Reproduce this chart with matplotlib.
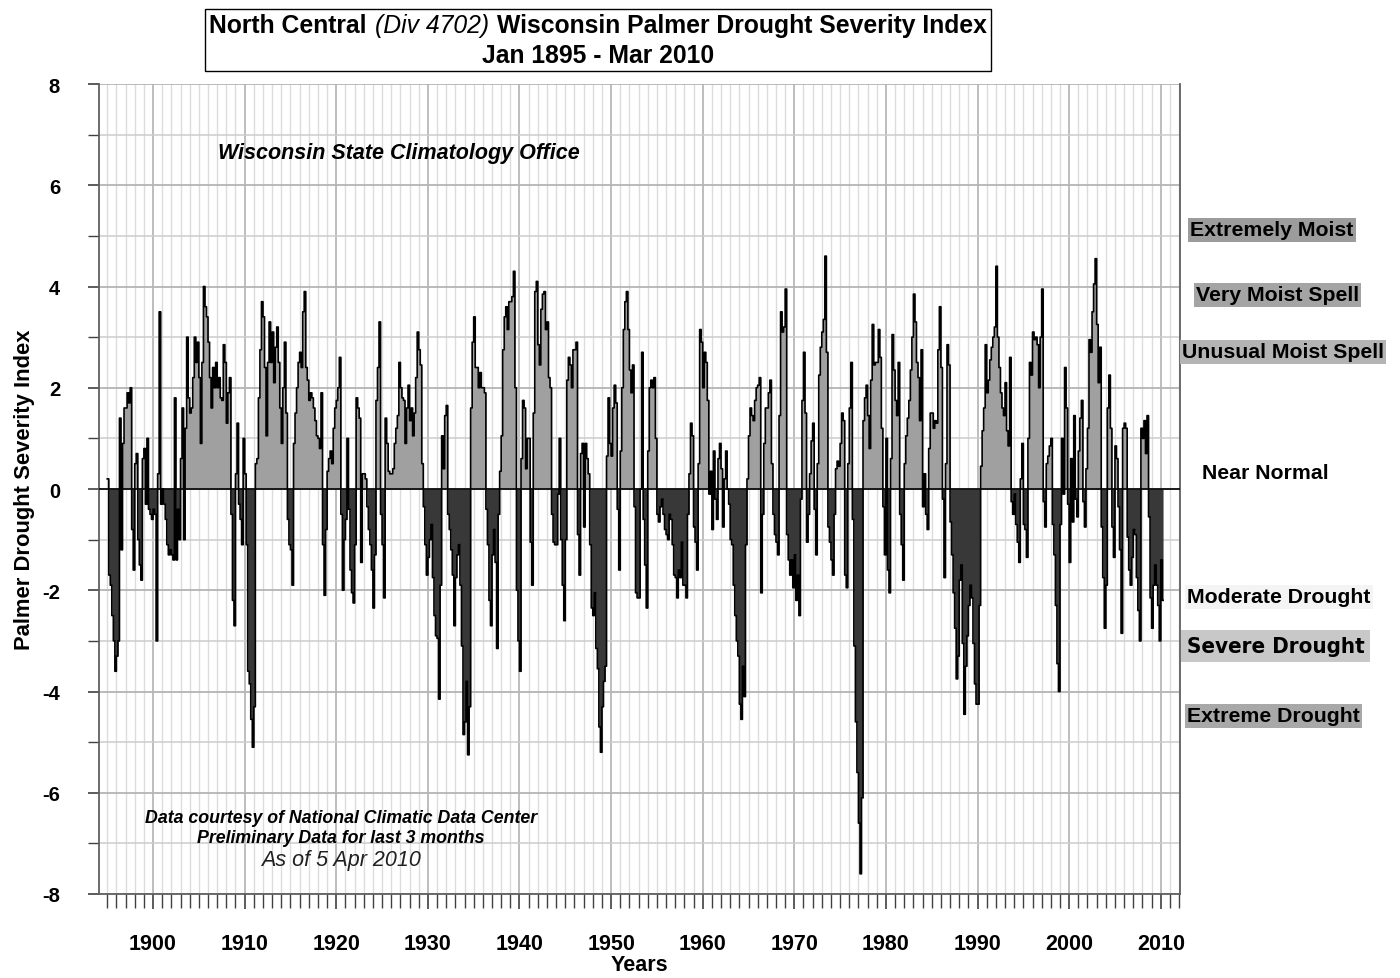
import numpy as np
import matplotlib.pyplot as plt
from matplotlib.ticker import MultipleLocator
from matplotlib.offsetbox import TextArea, HPacker, VPacker, AnnotationBbox

# Indice de Palmer, valores bimensuales (6 por año)
pdsi_1890s = [0.2, -1.7, -1.9, -2.5, -3.0, -3.6,
              -3.3, -3.0, 1.4, -1.2, 0.9, 1.6,
              1.6, 1.9, 1.7, 2.0, -0.8, -1.6,
              0.5, 0.7, -1.0, -1.5, -1.8, 0.6,
              0.8, -0.3, 1.0, -0.4, -0.5, -0.6]
pdsi_1900s = [-0.4, -0.5, -3.0, 0.3, 3.5, -0.3,
              0.0, -0.3, -0.6, -1.1, -1.3, -1.2,
              -1.3, -1.4, 1.8, -1.4, -0.4, -1.0,
              0.6, 1.6, -1.0, 1.2, 3.0, 1.8,
              1.5, 1.6, 2.2, 3.0, 2.5, 2.9,
              2.2, 0.9, 2.5, 4.0, 3.6, 3.4,
              2.9, 2.2, 1.6, 2.4, 2.0, 2.5,
              2.0, 2.2, 1.8, 1.75, 2.85, 2.5,
              1.3, 1.9, 2.2, -0.5, -2.2, -2.7,
              0.3, 1.3, -0.3, -0.6, -1.1, 1.0]
pdsi_1910s = [0.3, -1.1, -3.6, -3.85, -4.55, -5.1,
              -4.3, 0.5, 0.6, 1.8, 2.75, 3.7,
              3.4, 2.4, 1.05, 2.5, 3.3, 2.5,
              3.1, 2.1, 2.8, 3.2, 2.5, 1.6,
              0.9, 2.0, 2.9, 1.5, -0.6, -1.1,
              -1.2, -1.9, 0.9, 1.5, 2.0, 2.5,
              2.7, 2.4, 3.5, 3.9, 2.4, 2.15,
              1.75, 1.9, 1.8, 1.6, 1.35, 1.05,
              1.0, 0.8, 1.9, -1.1, -2.1, -0.8,
              0.35, 0.6, 0.75, 0.5, 1.2, 1.6]
pdsi_1920s = [1.75, 2.0, 2.6, -0.5, -2.0, -1.0,
              -0.6, 1.0, -0.4, -1.6, -2.05, -2.25,
              -1.1, 1.8, 1.6, 1.4, -1.45, 0.3,
              0.3, 0.2, -0.35, -0.8, -1.1, -1.6,
              -2.35, -1.3, 1.75, 2.4, 3.3, -0.5,
              -1.1, -2.15, 1.4, 0.9, 0.35, 0.3,
              0.3, 0.4, 0.9, 1.2, 1.45, 2.5,
              2.0, 1.8, 1.75, 0.9, 1.6, 2.05,
              1.35, 1.6, 1.05, 1.5, 2.2, 3.1,
              2.75, 2.45, 0.5, -0.35, -1.1, -1.7]
pdsi_1930s = [-1.35, -1.0, -0.7, -1.75, -2.5, -2.9,
              -2.95, -4.15, -1.9, 1.05, 0.4, 1.45,
              1.65, -0.5, -0.8, -1.2, -1.7, -2.7,
              -1.75, -1.3, -1.1, -1.9, -3.1, -4.85,
              -4.6, -3.8, -5.25, -4.3, 1.6, 2.9,
              3.4, 2.4, 2.4, 2.0, 2.3, 2.0,
              2.0, 1.9, -0.4, -1.1, -2.2, -2.7,
              -1.3, -0.8, -1.45, -3.15, -0.5, 0.35,
              1.05, 2.75, 3.4, 3.6, 3.15, 3.7,
              3.7, 3.8, 4.3, 2.0, -2.0, -3.0]
pdsi_1940s = [-3.6, 0.6, 1.75, 1.6, 0.4, 1.0,
              1.0, -1.05, -1.9, 1.5, 3.9, 4.1,
              2.85, 2.45, 3.55, 3.85, 3.9, 3.15,
              3.3, 2.2, 2.0, -0.5, -1.05, -1.1,
              -1.1, -0.1, 1.0, -1.0, -1.9, -2.6,
              -1.0, 2.15, 2.6, 2.45, 2.0, 2.75,
              2.75, 2.9, -0.9, -1.7, 0.7, 0.9,
              -0.75, 0.9, 0.6, 0.3, -1.1, -2.35,
              -2.5, -2.05, -3.15, -3.55, -4.7, -5.2,
              -4.3, -3.8, -3.5, 0.65, 1.8, 0.9]
pdsi_1950s = [0.65, 1.6, 2.05, 1.7, -0.4, -1.6,
              0.75, 2.0, 3.15, 3.7, 3.9, 3.15,
              2.35, 1.9, 2.45, -0.35, -2.05, -2.15,
              -2.15, 0.0, 2.7, -0.6, -1.5, -2.35,
              0.75, 2.0, 2.15, 2.0, 2.2, 1.0,
              -0.5, -0.65, -0.35, -0.2, -0.5, -0.8,
              -0.9, -1.0, -0.5, -0.6, -1.1, -1.7,
              -1.75, -2.15, -1.6, -1.75, -1.05, -1.9,
              -1.9, -2.15, -0.5, 0.3, 1.3, 1.05,
              -0.75, -1.05, -1.6, 0.5, 3.15, 2.9]
pdsi_1960s = [2.0, 2.7, 2.5, 1.75, -0.1, 0.35,
              -0.8, 0.75, -0.2, -0.6, 0.6, 0.9,
              0.4, -0.75, 0.2, 0.75, 0.0, -0.3,
              -1.0, -1.1, -1.9, -2.5, -3.0, -3.3,
              -4.25, -4.55, -3.5, -4.1, -1.1, 0.2,
              1.05, 1.6, 1.45, 1.35, 1.75, 2.0,
              2.05, 2.2, -2.05, -0.5, 0.9, 1.6,
              1.6, 1.9, 2.15, 0.5, -0.5, -0.9,
              -1.05, -1.3, 1.45, 3.5, 3.1, 3.2,
              3.95, -0.9, -1.4, -1.7, -1.4, -1.95]
pdsi_1970s = [-1.3, -2.2, -1.7, -2.5, -0.2, 1.75,
              2.7, 1.5, -1.05, -0.5, 0.3, 0.95,
              1.3, -0.4, -1.3, 0.5, 2.25, 2.8,
              3.1, 3.35, 4.6, 2.7, -0.75, -1.05,
              -1.4, -1.7, -0.5, 0.4, 0.55, 0.45,
              0.9, 1.5, 1.35, -1.7, -1.95, 0.5,
              1.6, 2.5, -0.6, -3.1, -4.6, -5.6,
              -6.6, -7.6, -6.1, 1.35, 1.8, 2.05,
              1.45, 0.8, 2.15, 3.25, 2.45, 2.5,
              2.5, 3.15, 2.6, 1.2, -0.35, -1.3]
pdsi_1980s = [1.0, -1.6, -2.05, 0.6, 3.05, 2.35,
              1.75, 1.45, 2.5, -0.5, -1.1, -1.8,
              0.5, 1.05, 1.4, 1.75, 2.35, 3.0,
              3.85, 3.3, 2.5, 2.2, 1.35, 2.75,
              -0.35, 0.3, -0.5, -0.8, 0.8, 1.5,
              1.5, 1.2, 1.35, 1.3, 2.75, 3.6,
              2.4, -0.2, -1.75, 0.5, 2.85, 2.45,
              -0.65, -1.3, -2.05, -2.75, -3.75, -3.3,
              -1.8, -1.5, -3.05, -4.45, -3.5, -2.9,
              -2.3, -1.9, -2.15, -3.05, -3.85, -4.25]
pdsi_1990s = [-4.25, -2.3, 0.45, 1.15, 1.6, 2.85,
              1.9, 2.15, 2.55, 2.8, 3.0, 3.2,
              4.4, 3.0, 2.4, 1.9, 1.6, 1.45,
              2.1, 1.15, 0.85, 2.6, -0.25, -0.5,
              -0.1, -0.7, -1.05, -1.45, 0.2, 0.9,
              -0.7, -0.8, -1.35, 1.0, 2.5, 2.25,
              3.1, 2.95, 3.0, 2.85, 2.0, 3.0,
              3.95, -0.25, -0.75, 0.5, 0.65, 0.85,
              1.0, -0.7, -1.3, -2.3, -3.45, -4.0,
              -0.7, 1.0, -0.1, 2.4, 1.6, -0.3]
pdsi_2000s = [-1.45, 0.6, -0.65, 1.45, -0.2, -0.55,
              0.75, 1.4, 1.75, -0.25, -0.75, 0.4,
              1.2, 2.95, 2.7, 3.5, 4.05, 4.55,
              3.25, 2.1, 2.8, -0.75, -1.75, -2.75,
              -1.9, 1.6, 2.25, 1.2, -0.75, -1.35,
              0.85, 0.6, -0.35, -1.2, -2.85, 1.2,
              1.3, 1.2, -0.95, -1.6, -1.9, -1.35,
              -0.8, -0.9, -1.75, -2.4, -3.0, 1.2,
              1.0, 1.35, 0.7, 1.45, -0.55, -2.15,
              -2.75, -1.9, -1.5, -1.9, -2.3, -3.0]
pdsi_2010 = [-1.4, -2.2]

categorias = [("Extremely Moist", 231, 1190, '#9c9c9c'),
              ("Very Moist Spell", 296, 1196, '#a4a4a4'),
              ("Unusual Moist Spell", 353, 1182, '#b4b4b4'),
              ("Near Normal", 474, 1202, None),
              ("Moderate Drought", 598, 1187, '#f4f4f4'),
              ("Severe Drought", 647, 1187, '#c8c8c8'),
              ("Extreme Drought", 717, 1187, '#a8a8a8')]

pdsi = np.array(pdsi_1890s + pdsi_1900s + pdsi_1910s + pdsi_1920s + pdsi_1930s +
                pdsi_1940s + pdsi_1950s + pdsi_1960s + pdsi_1970s + pdsi_1980s +
                pdsi_1990s + pdsi_2000s + pdsi_2010)
t = 1895 + np.arange(len(pdsi)) / 6.0
t_s = np.append(t, 2010.25)
v_s = np.append(pdsi, pdsi[-1])

plt.rcParams['font.family'] = ['Liberation Sans', 'DejaVu Sans']
plt.rcParams['axes.unicode_minus'] = False

W, H = 1400, 979
fig = plt.figure(figsize=(W / 100, H / 100), dpi=100)
ax = fig.add_axes([99 / W, 1 - 895 / H, (1180 - 99) / W, (895 - 85) / H])

# Relleno positivo / negativo
ax.fill_between(t_s, np.maximum(v_s, 0), 0, step='post', color='#a0a0a0', lw=0, zorder=2)
ax.fill_between(t_s, np.minimum(v_s, 0), 0, step='post', color='#383838', lw=0, zorder=2)
ax.plot(t_s, v_s, drawstyle='steps-post', color='black', lw=1.2, zorder=3)
ax.axhline(0, color='black', lw=1.2, zorder=4)

ax.set_xlim(1894.1, 2012.1)
ax.set_ylim(-8, 8)
ax.xaxis.set_major_locator(MultipleLocator(10))
ax.xaxis.set_minor_locator(MultipleLocator(1))
ax.yaxis.set_major_locator(MultipleLocator(2))
ax.yaxis.set_minor_locator(MultipleLocator(1))
ax.grid(which='major', axis='x', color='#bdbdbd', lw=1.4, zorder=0)
ax.grid(which='minor', axis='x', color='#dcdcdc', lw=1.0, zorder=0)
ax.grid(which='major', axis='y', color='#b4b4b4', lw=1.3, zorder=0)
ax.grid(which='minor', axis='y', color='#cccccc', lw=1.1, zorder=0)
ax.set_axisbelow(True)

ax.tick_params(which='both', direction='out', color='#404040')
ax.tick_params(axis='x', which='major', length=11, width=1.2, labelsize=15.5, pad=17)
ax.tick_params(axis='x', which='minor', length=10, width=1.0)
ax.tick_params(axis='y', which='major', length=8, width=1.2, labelsize=14.5, pad=20)
ax.tick_params(axis='y', which='minor', length=8, width=1.0)
for lab in ax.get_xticklabels() + ax.get_yticklabels():
    lab.set_fontweight('bold')

for s in ['left', 'bottom', 'right']:
    ax.spines[s].set_color('#606060')
    ax.spines[s].set_linewidth(1.3)
ax.spines['top'].set_visible(False)

ax.set_xlabel("Years", fontsize=15.5, fontweight='bold', labelpad=0)
ax.set_ylabel("Palmer Drought Severity Index", fontsize=15.8, fontweight='bold', labelpad=5)

# Titulo en caja
tp = dict(fontsize=17.8, fontweight='bold')
l1 = HPacker(children=[TextArea("North Central", textprops=tp),
                       TextArea("(Div 4702)", textprops=dict(fontsize=17.8, fontstyle='italic')),
                       TextArea("Wisconsin Palmer Drought Severity Index", textprops=tp)],
             align='baseline', pad=0, sep=6)
l2 = TextArea("Jan 1895 - Mar 2010", textprops=tp)
caja = VPacker(children=[l1, l2], align='center', pad=0, sep=5)
ab = AnnotationBbox(caja, (598 / W, 1 - 41 / H), xycoords='figure fraction',
                    box_alignment=(0.5, 0.5), pad=0.28,
                    bboxprops=dict(edgecolor='black', lw=1.0, facecolor='white'))
fig.add_artist(ab)

fig.text(218 / W, 1 - 154 / H, "Wisconsin State Climatology Office", fontsize=15.5,
         fontweight='bold', fontstyle='italic', va='center', ha='left')
fig.text(341 / W, 1 - 819 / H, "Data courtesy of National Climatic Data Center",
         fontsize=12.8, fontweight='bold', fontstyle='italic', ha='center', va='center')
fig.text(341 / W, 1 - 839 / H, "Preliminary Data for last 3 months",
         fontsize=12.8, fontweight='bold', fontstyle='italic', ha='center', va='center')
fig.text(341 / W, 1 - 861 / H, "As of 5 Apr 2010", fontsize=15.5, fontstyle='italic',
         ha='center', va='center', color='#202020')

# Etiquetas de categorias a la derecha
for nombre, py, px, col in categorias:
    if nombre == "Severe Drought":
        kw = dict(fontsize=16, fontweight='bold', family='DejaVu Sans', fontstretch='condensed')
        pad = 4
    else:
        kw = dict(fontsize=15.3, fontweight='bold')
        pad = 1.5
    bb = dict(facecolor=col, edgecolor='none', pad=pad) if col else None
    fig.text(px / W, 1 - py / H, nombre, ha='left', va='center', bbox=bb, **kw)

fig.savefig('out.png', dpi=100)
